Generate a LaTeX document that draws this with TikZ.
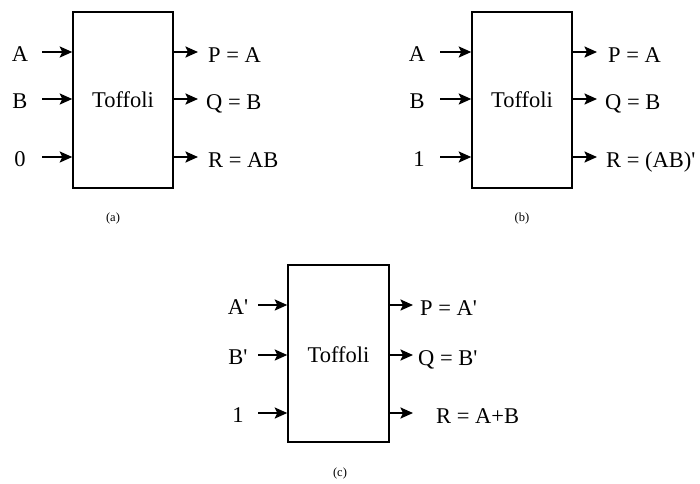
\documentclass[tikz,border=0pt]{standalone}
\usepackage{fontspec}
\setmainfont{Liberation Serif}
\usetikzlibrary{arrows.meta}
\newcommand{\pr}{\textquotesingle}
\begin{document}
\begin{tikzpicture}[x=1pt,y=-1pt,
  gate/.style={draw,line width=1.5pt,inner sep=0pt},
  arr/.style={line width=2.1pt,-{Stealth[length=12.5pt,width=11pt,inset=2.5pt]}},
  lbl/.style={inner sep=0pt,font=\fontsize{22.5}{27}\selectfont},
  captext/.style={inner sep=0pt,font=\fontsize{12.5}{15}\selectfont}]
\useasboundingbox (0,0) rectangle (700,483);
% ---------- (a)
\node[gate,minimum width=100pt,minimum height=176pt] (boxa) at (123,100) {};
\node[lbl,anchor=base] (ta) at (123,107.6) {Toffoli};
\coordinate (ai1) at (42,52); \coordinate (ai2) at (42,99); \coordinate (ai3) at (42,157);
\coordinate (ao1) at (198,52); \coordinate (ao2) at (198,99); \coordinate (ao3) at (198,157);
\draw[arr] (ai1) -- (ai1 -| boxa.west);
\draw[arr] (ai2) -- (ai2 -| boxa.west);
\draw[arr] (ai3) -- (ai3 -| boxa.west);
\draw[arr] (ao1 -| boxa.east) -- (ao1);
\draw[arr] (ao2 -| boxa.east) -- (ao2);
\draw[arr] (ao3 -| boxa.east) -- (ao3);
\node[lbl,anchor=base] (la1) at (20,61) {A};
\node[lbl,anchor=base] (la2) at (20,108) {B};
\node[lbl,anchor=base] (la3) at (20,166) {0};
\node[lbl,anchor=base west] (ra1) at (208,62) {P = A};
\node[lbl,anchor=base west] (ra2) at (206,109) {Q = B};
\node[lbl,anchor=base west] (ra3) at (208,167) {R = AB};
\node[captext] (capa) at (113,218) {(a)};
% ---------- (b)
\node[gate,minimum width=100pt,minimum height=176pt] (boxb) at (522,100) {};
\node[lbl,anchor=base] (tb) at (522,107.6) {Toffoli};
\coordinate (bi1) at (440,52); \coordinate (bi2) at (440,99); \coordinate (bi3) at (440,157);
\coordinate (bo1) at (597,52); \coordinate (bo2) at (597,99); \coordinate (bo3) at (597,157);
\draw[arr] (bi1) -- (bi1 -| boxb.west);
\draw[arr] (bi2) -- (bi2 -| boxb.west);
\draw[arr] (bi3) -- (bi3 -| boxb.west);
\draw[arr] (bo1 -| boxb.east) -- (bo1);
\draw[arr] (bo2 -| boxb.east) -- (bo2);
\draw[arr] (bo3 -| boxb.east) -- (bo3);
\node[lbl,anchor=base] (lb1) at (417,61) {A};
\node[lbl,anchor=base] (lb2) at (417,108) {B};
\node[lbl,anchor=base] (lb3) at (419,166) {1};
\node[lbl,anchor=base west] (rb1) at (608,62) {P = A};
\node[lbl,anchor=base west] (rb2) at (605,109) {Q = B};
\node[lbl,anchor=base west] (rb3) at (606,167) {R = (AB)\pr};
\node[captext] (capb) at (522,218) {(b)};
% ---------- (c)
\node[gate,minimum width=101pt,minimum height=177pt] (boxc) at (338.5,353.5) {};
\node[lbl,anchor=base] (tc) at (338.5,362) {Toffoli};
\coordinate (ci1) at (258,305); \coordinate (ci2) at (258,355); \coordinate (ci3) at (258,413);
\coordinate (co1) at (413,305); \coordinate (co2) at (413,355); \coordinate (co3) at (413,413);
\draw[arr] (ci1) -- (ci1 -| boxc.west);
\draw[arr] (ci2) -- (ci2 -| boxc.west);
\draw[arr] (ci3) -- (ci3 -| boxc.west);
\draw[arr] (co1 -| boxc.east) -- (co1);
\draw[arr] (co2 -| boxc.east) -- (co2);
\draw[arr] (co3 -| boxc.east) -- (co3);
\node[lbl,anchor=base] (lc1) at (238,314) {A\pr};
\node[lbl,anchor=base] (lc2) at (238,364) {B\pr};
\node[lbl,anchor=base] (lc3) at (238,422) {1};
\node[lbl,anchor=base west] (rc1) at (420,315) {P = A\pr};
\node[lbl,anchor=base west] (rc2) at (418,365) {Q = B\pr};
\node[lbl,anchor=base west] (rc3) at (436,423) {R = A+B};
\node[captext] (capc) at (340,473) {(c)};
\end{tikzpicture}
\end{document}
